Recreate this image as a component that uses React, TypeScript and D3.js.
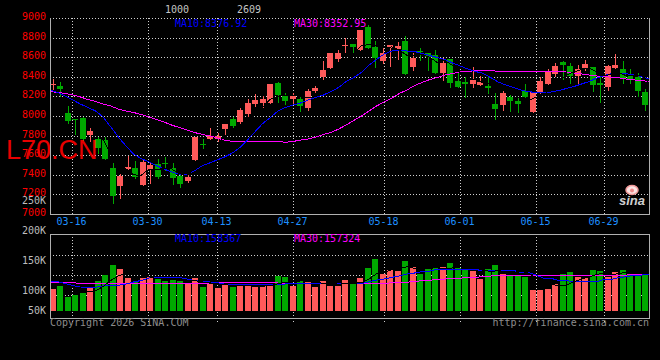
import React from 'react';
import * as d3 from 'd3';

const dates = ['03-11','03-12','03-13','03-16','03-17','03-18','03-19','03-20','03-23','03-24','03-25','03-26','03-27','03-30','03-31','04-01','04-02','04-03','04-07','04-08','04-09','04-10','04-13','04-14','04-15','04-16','04-17','04-20','04-21','04-22','04-23','04-24','04-27','04-28','04-29','04-30','05-06','05-07','05-08','05-11','05-12','05-13','05-14','05-15','05-18','05-19','05-20','05-21','05-22','05-25','05-26','05-27','05-28','05-29','06-01','06-02','06-03','06-04','06-05','06-08','06-09','06-10','06-11','06-12','06-15','06-16','06-17','06-18','06-22','06-23','06-24','06-25','06-26','06-29','06-30','07-01','07-02','07-03','07-06','07-07'];

const opens = [8318,8306,8034,7967,7983,7803,7765,7755,7473,7289,7456,7473,7296,7449,7510,7524,7473,7391,7340,7551,7714,7768,7762,7870,7969,7942,8023,8122,8136,8136,8334,8204,8173,8173,8085,8255,8395,8487,8582,8719,8735,8673,8905,8701,8565,8691,8684,8765,8503,8666,8646,8622,8442,8579,8357,8344,8327,8316,8306,8122,8112,8197,8156,8255,8044,8232,8327,8429,8554,8510,8408,8493,8497,8340,8299,8493,8476,8408,8395,8248];
const highs = [8378,8350,8102,7972,7990,7881,7789,7789,7524,7408,7592,7541,7564,7534,7558,7577,7520,7421,7421,7789,7762,7881,7830,7918,7993,8085,8173,8224,8204,8327,8350,8238,8238,8197,8276,8306,8561,8643,8673,8793,8735,8878,8929,8768,8691,8724,8752,8816,8640,8691,8646,8673,8589,8579,8459,8401,8497,8408,8401,8231,8258,8214,8180,8327,8248,8401,8476,8544,8565,8544,8520,8571,8503,8401,8520,8633,8561,8476,8435,8272];
const lows = [8276,8207,7932,7813,7760,7740,7619,7558,7115,7160,7442,7364,7296,7320,7364,7449,7310,7280,7330,7551,7677,7765,7748,7816,7885,7926,8003,8105,8095,8136,8146,8122,8130,8054,8061,8248,8378,8487,8565,8656,8650,8673,8691,8503,8538,8513,8582,8429,8469,8571,8469,8442,8367,8293,8293,8191,8299,8316,8238,7966,8061,8051,8044,8197,8044,8232,8327,8408,8374,8340,8334,8469,8255,8146,8265,8493,8334,8340,8207,8061];
const closes = [8325,8276,7952,7956,7765,7850,7677,7558,7187,7388,7483,7381,7531,7503,7381,7513,7371,7306,7378,7786,7704,7799,7796,7918,7898,8064,8133,8163,8173,8327,8214,8156,8204,8102,8258,8289,8469,8640,8646,8728,8701,8878,8691,8589,8640,8724,8717,8429,8595,8656,8605,8442,8537,8340,8299,8323,8367,8350,8289,8071,8238,8153,8122,8197,8248,8357,8459,8510,8520,8408,8476,8531,8316,8316,8510,8520,8374,8381,8258,8112];
const volumes = [94400,105200,61400,69500,77300,96600,128800,154500,197400,181100,142900,123600,142900,145100,141600,130000,133000,128800,117200,142900,103000,115900,100000,115000,103000,111600,107300,104300,107300,111600,151100,145900,108200,128800,125300,104300,128800,108600,109400,133000,114600,142900,185800,224500,160100,176000,173000,215900,188800,158800,180300,188800,188800,207300,183300,176000,173000,136000,181500,198700,160100,154500,154500,147200,90100,90100,95700,117200,158800,167400,147200,140300,176000,171700,147200,167400,176000,157500,154500,154500];

const ma10 = [8265,8240,8204,8163,8122,8087,8051,7990,7888,7786,7694,7612,7566,7531,7495,7459,7429,7408,7403,7439,7490,7520,7551,7582,7622,7679,7755,7840,7923,7983,8051,8087,8112,8133,8163,8189,8214,8250,8291,8352,8393,8444,8520,8577,8633,8663,8670,8663,8658,8638,8617,8597,8577,8541,8510,8480,8454,8436,8393,8347,8316,8291,8265,8248,8240,8240,8245,8260,8281,8301,8327,8352,8388,8413,8434,8434,8429,8423,8398,8376.92];
const ma30 = [8248,8242,8230,8216,8194,8168,8148,8122,8102,8071,8051,8036,8015,7990,7964,7939,7908,7883,7857,7832,7813,7798,7776,7752,7742,7742,7742,7742,7742,7742,7742,7732,7740,7755,7765,7786,7811,7832,7867,7908,7954,8000,8051,8102,8143,8184,8230,8265,8311,8342,8372,8393,8418,8434,8449,8456,8462,8466,8464,8456,8456,8456,8456,8456,8456,8456,8456,8456,8449,8439,8429,8418,8408,8403,8395,8388,8376,8367,8359,8352.95];
const volMa10 = [125800,125800,118000,109400,103000,101700,101700,107300,109400,110300,115900,124500,130900,141600,144600,144600,144600,143800,137300,130900,126600,124500,122300,114600,112900,111600,111600,111600,111600,111600,113700,115900,117200,117200,117200,117200,117200,117200,117200,117200,117200,117200,125800,133000,137300,144600,150200,158800,163100,168700,171700,179000,179000,179000,179000,179000,179000,171700,171700,174700,174700,174700,164400,164400,154500,140300,140300,130000,130000,125800,125800,125800,125800,136100,136100,143800,147200,154500,154500,158367];
const volMa30 = [123200,123200,123200,123200,115900,115900,115900,115900,115900,115900,115900,115900,115900,115900,118000,118000,118000,118000,118000,118000,118000,120200,120200,120200,120200,120200,120200,120200,120200,120200,120200,118900,118900,118900,118900,118900,118900,118900,118900,118900,118900,118900,118900,118900,119500,120500,121500,123200,127000,130000,132000,135000,137300,139000,141000,143000,145000,147000,150000,152000,153500,153500,153500,153500,153500,153500,153500,153500,153500,153500,153500,153500,153500,153500,153500,153500,154500,155500,156500,157324];

const priceTicks = [9000, 8800, 8600, 8400, 8200, 8000, 7800, 7600, 7400, 7200, 7000];
const dateTicks = ['03-16', '03-30', '04-13', '04-27', '05-18', '06-01', '06-15', '06-29'];
const volumeTicks = [250000, 200000, 150000, 100000, 50000];
const headerLabels = ['1000', '2609'];
const symbol = 'L70.CN';

const RED = '#ff5a5a';
const GREEN = '#00a800';
const GRID = '#d0d0d0';
const AXIS = '#b0b0b0';
const MONO = '"DejaVu Sans Mono", monospace';

type P = [number, number];

export default function App() {
  const n = dates.length;
  const L = 50, R = 650;
  const mainTop = 18, mainBot = 214;
  const volTop = 234, volBot = 318, volBase = 311;

  const xBand = d3.scaleBand<number>().domain(d3.range(n)).range([L, R]);
  const xLine = d3.scaleLinear().domain([0, n - 1]).range([L, R]);
  const yP = d3.scaleLinear().domain([7000, 9000]).range([mainBot, mainTop]);
  const yV = d3.scaleLinear().domain([0, 300000]).range([volBase, volBase - 69.9]);
  const yVLabel = d3.scaleLinear().domain([100000, 250000]).range([294, 204]);
  const yVGrid = d3.scaleLinear().domain([0, 4]).range([315.5, 235.5]);

  const barW = Math.floor(xBand.bandwidth()) - 1;
  const bx = (i: number) => Math.floor(xBand(i) as number);
  const r = Math.round;
  const gx = (i: number) => Math.floor(xLine(i)) + 0.5;

  const pairs = (arr: number[]) => arr.map((v, i) => [i, v] as P);
  const ma5 = d3.range(4, n).map(i => [i, d3.mean(closes.slice(i - 4, i + 1)) as number] as P);
  const vma5 = d3.range(4, n).map(i => [i, d3.mean(volumes.slice(i - 4, i + 1)) as number] as P);

  const priceLine = d3.line<P>().x(d => xLine(d[0])).y(d => yP(d[1]));
  const volLine = d3.line<P>().x(d => xLine(d[0])).y(d => yV(d[1]));

  const tickIdx = dateTicks.map(t => dates.indexOf(t));
  const fmtK = (v: number) => `${v / 1000}K`;

  return (
    <svg width={660} height={360} style={{ position: 'absolute', left: 0, top: 0, background: '#000' }}>
      <rect x={0} y={0} width={660} height={360} fill="#000" />

      {/* header */}
      {headerLabels.map((t, k) => (
        <text key={t} x={165 + k * 72} y={13} fill="#c4c4c4" fontFamily={MONO} fontSize={10}>{t}</text>
      ))}

      {/* main grid */}
      <g shapeRendering="crispEdges">
        {priceTicks.slice(0, -1).map(p => (
          <line key={p} x1={L} x2={R} y1={r(yP(p)) + 0.5} y2={r(yP(p)) + 0.5} stroke={GRID} strokeDasharray="1 2" />
        ))}
        {tickIdx.map(i => (
          <line key={'v' + i} x1={gx(i)} x2={gx(i)} y1={mainTop} y2={mainBot} stroke={GRID} strokeDasharray="1 2" />
        ))}
        {[0, 1, 2, 3].slice(1).map(k => (
          <line key={'vg' + k} x1={L} x2={R} y1={yVGrid(k)} y2={yVGrid(k)} stroke={GRID} strokeDasharray="1 2" />
        ))}
        {tickIdx.map(i => (
          <line key={'vv' + i} x1={gx(i)} x2={gx(i)} y1={volTop} y2={volBot + 4} stroke={GRID} strokeDasharray="1 2" />
        ))}
      </g>

      {/* volume bars */}
      <g shapeRendering="crispEdges">
        {volumes.map((v, i) => {
          const top = r(yV(v));
          return <rect key={i} x={bx(i)} y={top} width={barW} height={volBase - top}
            fill={closes[i] >= opens[i] ? RED : GREEN} />;
        })}
      </g>

      {/* candles */}
      <g shapeRendering="crispEdges">
        {d3.range(n).map(i => {
          const o = opens[i], c = closes[i];
          const col = c >= o ? RED : GREEN;
          const x = bx(i);
          const yt = r(yP(Math.max(o, c))), yb = r(yP(Math.min(o, c)));
          const yh = r(yP(highs[i])), yl = r(yP(lows[i]));
          return (
            <g key={i}>
              <rect x={x + 3} y={yh} width={1} height={Math.max(1, yl - yh + 1)} fill={col} />
              <rect x={x} y={yt} width={barW} height={Math.max(1, yb - yt)} fill={col} />
            </g>
          );
        })}
      </g>

      {/* symbol watermark */}
      <text x={6} y={159} fill="#e80000" fontFamily='"Liberation Sans", Arial, sans-serif' fontSize={27}>{symbol}</text>

      {/* MA lines */}
      <g fill="none" strokeWidth={1} shapeRendering="crispEdges">
        <path d={priceLine(pairs(ma30)) as string} stroke="#ff00ff" />
        <path d={priceLine(pairs(ma10)) as string} stroke="#0000ff" />
        <path d={priceLine(ma5) as string} stroke="#000" />
        <path d={volLine(pairs(volMa30)) as string} stroke="#ff00ff" />
        <path d={volLine(pairs(volMa10)) as string} stroke="#0000ff" />
        <path d={volLine(vma5) as string} stroke="#000" />
      </g>

      {/* borders */}
      <g stroke={AXIS} shapeRendering="crispEdges" fill="none">
        <line x1={L + 0.5} x2={L + 0.5} y1={mainTop} y2={mainBot + 1} />
        <line x1={L} x2={R} y1={mainBot + 0.5} y2={mainBot + 0.5} />
        <line x1={R - 0.5} x2={R - 0.5} y1={mainTop} y2={mainBot + 1} />
        <rect x={L + 0.5} y={volTop + 0.5} width={R - L - 1} height={volBot - volTop} />
      </g>

      {/* price axis labels */}
      {priceTicks.map(p => (
        <text key={p} x={46} y={r(yP(p)) + 2} textAnchor="end" fill="#ff0000" fontFamily={MONO} fontSize={10}>{p}</text>
      ))}

      {/* volume labels */}
      {volumeTicks.map(v => (
        <text key={v} x={46} y={Math.min(314, yVLabel(v))} textAnchor="end" fill="#bdbdbd" fontFamily={MONO} fontSize={10}>{fmtK(v)}</text>
      ))}

      {/* date labels */}
      {tickIdx.map((i, k) => (
        <text key={'d' + i} x={gx(i) - 1} y={225} textAnchor="middle" fill="#1e90ff" fontFamily={MONO} fontSize={10}>{dateTicks[k]}</text>
      ))}

      {/* MA legends */}
      <text x={175} y={27} fill="#0000ff" fontFamily={MONO} fontSize={10}>{`MA10:${ma10[n - 1].toFixed(2)}`}</text>
      <text x={294} y={27} fill="#ff00ff" fontFamily={MONO} fontSize={10}>{`MA30:${ma30[n - 1].toFixed(2)}`}</text>
      <text x={175} y={242} fill="#0000ff" fontFamily={MONO} fontSize={10}>{`MA10:${volMa10[n - 1]}`}</text>
      <text x={294} y={242} fill="#ff00ff" fontFamily={MONO} fontSize={10}>{`MA30:${volMa30[n - 1]}`}</text>

      {/* sina logo */}
      <g>
        <ellipse cx={632} cy={190} rx={6} ry={4.5} fill="#fbe4e4" stroke="#f09a9a" strokeWidth={1.5} />
        <circle cx={632} cy={190.5} r={2} fill="#e88" />
        <text x={619} y={205} fill="#cfcfcf" fontFamily='"Liberation Sans", Arial, sans-serif' fontSize={13} fontStyle="italic" fontWeight="bold">sina</text>
      </g>

      {/* footer */}
      <text x={50} y={326} fill="#8c8c8c" fontFamily={MONO} fontSize={10}>Copyright 2026 SINA.COM</text>
      <text x={649} y={326} textAnchor="end" fill="#8c8c8c" fontFamily={MONO} fontSize={10}>http://finance.sina.com.cn</text>
    </svg>
  );
}
